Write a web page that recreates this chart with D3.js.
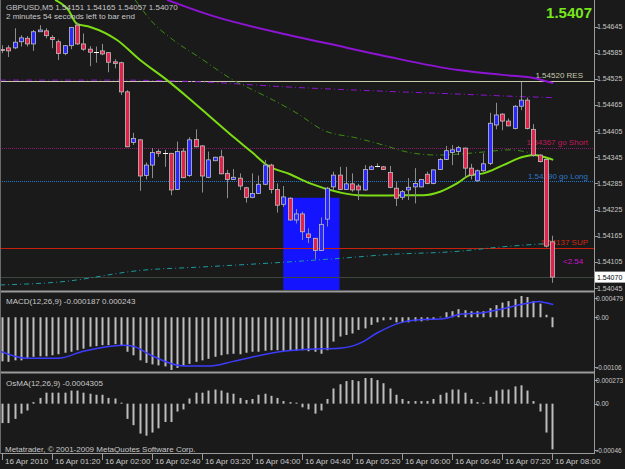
<!DOCTYPE html>
<html>
<head>
<meta charset="utf-8">
<script src="https://d3js.org/d3.v7.min.js"></script>
<style>
    body { margin: 0; background: #1a1a1a; overflow: hidden; }
    text { font-family: "Liberation Sans", Arial, sans-serif; font-size: 8px; fill: #c8c8c8; }
    text.axis { font-size: 7px; }
    text.big { font-size: 15px; font-weight: bold; fill: #78e61e; }
</style>
</head>
<body>
<div id="container"></div>
<script>
    // ---- data (GBPUSD M5, 16 Apr 2010 00:40 - 08:00) ----
    const opens = [1.54592,1.54596,1.54596,1.54610,1.54618,1.54605,1.54633,1.54635,1.54620,1.54610,
        1.54583,1.54601,1.54648,1.54605,1.54593,1.54586,1.54589,1.54585,1.54564,1.54562,
        1.54495,1.54379,1.54385,1.54303,1.54327,1.54358,1.54355,1.54354,1.54271,1.54359,
        1.54303,1.54386,1.54371,1.54299,1.54337,1.54346,1.54308,1.54294,1.54297,1.54275,
        1.54253,1.54262,1.54283,1.54327,1.54271,1.54237,1.54251,1.54201,1.54215,1.54169,
        1.54159,1.54131,1.54203,1.54277,1.54304,1.54271,1.54284,1.54279,1.54270,1.54317,
        1.54326,1.54323,1.54310,1.54274,1.54253,1.54270,1.54277,1.54277,1.54306,1.54285,
        1.54317,1.54340,1.54356,1.54358,1.54366,1.54320,1.54291,1.54314,1.54331,1.54419,
        1.54444,1.54428,1.54411,1.54462,1.54476,1.54409,1.54350,1.54340,1.54151];
    const highs = [1.54602,1.54602,1.54641,1.54625,1.54623,1.54637,1.54648,1.54641,1.54625,1.54615,
        1.54602,1.54644,1.54654,1.54629,1.54600,1.54599,1.54605,1.54586,1.54570,1.54564,
        1.54499,1.54401,1.54386,1.54333,1.54366,1.54363,1.54362,1.54355,1.54381,1.54366,
        1.54391,1.54409,1.54373,1.54358,1.54346,1.54362,1.54316,1.54318,1.54308,1.54277,
        1.54308,1.54303,1.54339,1.54330,1.54285,1.54279,1.54253,1.54226,1.54220,1.54182,
        1.54160,1.54207,1.54277,1.54312,1.54323,1.54323,1.54308,1.54284,1.54327,1.54327,
        1.54331,1.54325,1.54325,1.54289,1.54270,1.54297,1.54320,1.54295,1.54312,1.54317,
        1.54343,1.54371,1.54373,1.54371,1.54367,1.54330,1.54317,1.54354,1.54447,1.54470,
        1.54446,1.54434,1.54465,1.54518,1.54482,1.54421,1.54352,1.54343,1.54165];
    const lows = [1.54584,1.54575,1.54593,1.54599,1.54599,1.54589,1.54633,1.54618,1.54595,1.54568,
        1.54579,1.54593,1.54603,1.54589,1.54554,1.54562,1.54579,1.54540,1.54549,1.54488,
        1.54368,1.54373,1.54268,1.54294,1.54297,1.54346,1.54323,1.54258,1.54270,1.54297,
        1.54300,1.54368,1.54264,1.54297,1.54336,1.54306,1.54251,1.54293,1.54270,1.54241,
        1.54251,1.54261,1.54281,1.54262,1.54218,1.54231,1.54199,1.54193,1.54155,1.54148,
        1.54111,1.54130,1.54186,1.54270,1.54270,1.54270,1.54266,1.54247,1.54268,1.54316,
        1.54322,1.54316,1.54274,1.54233,1.54247,1.54247,1.54239,1.54276,1.54283,1.54283,
        1.54316,1.54339,1.54327,1.54350,1.54297,1.54294,1.54289,1.54312,1.54327,1.54409,
        1.54407,1.54416,1.54409,1.54453,1.54409,1.54346,1.54333,1.54138,1.54057];
    const closes = [1.54590,1.54589,1.54609,1.54619,1.54605,1.54633,1.54637,1.54624,1.54615,1.54583,
        1.54601,1.54643,1.54605,1.54593,1.54586,1.54586,1.54582,1.54563,1.54560,1.54495,
        1.54369,1.54388,1.54302,1.54327,1.54356,1.54354,1.54355,1.54270,1.54358,1.54298,
        1.54385,1.54369,1.54302,1.54339,1.54345,1.54307,1.54294,1.54299,1.54279,1.54253,
        1.54262,1.54283,1.54327,1.54271,1.54235,1.54254,1.54201,1.54215,1.54174,1.54161,
        1.54131,1.54191,1.54274,1.54304,1.54271,1.54284,1.54270,1.54270,1.54317,1.54323,
        1.54326,1.54317,1.54276,1.54251,1.54266,1.54276,1.54285,1.54294,1.54285,1.54316,
        1.54340,1.54360,1.54362,1.54367,1.54320,1.54304,1.54314,1.54330,1.54423,1.54442,
        1.54428,1.54417,1.54462,1.54476,1.54411,1.54350,1.54335,1.54141,1.54070];

    // moving averages: knots read at bar positions
    const maFastBars = [8.5,10.6,12,14.1,18.4,22.1,26.4,29.6,33.3,37,40.2,42.4,46.1,49.3,54.1,56.8,60,63.7,67.4,70.1,72.8,74.9,77,80.2,83.4,85,86.6,88.2];
    const maFastVals = [1.54706,1.54683,1.54651,1.54644,1.54614,1.54568,1.54522,1.54484,1.54438,1.54392,1.54354,1.54327,1.54306,1.54285,1.54264,1.54258,1.54257,1.54258,1.54258,1.54266,1.54285,1.54304,1.54308,1.54327,1.54346,1.54350,1.54346,1.54339];
    const maMidBars = [21.3,24.2,27.4,31.7,37,40.2,43.4,47.2,51.4,56.8,61,64.8,69.6,72.8,77,81.3,84.5,87.7];
    const maMidVals = [1.54706,1.54653,1.54614,1.54573,1.54522,1.54499,1.54476,1.54446,1.54407,1.54389,1.54373,1.54357,1.54350,1.54352,1.54357,1.54362,1.54355,1.54339];
    const maSlowBars = [26.4,33.3,46,55,62,73,80,85,88.2];
    const maSlowVals = [1.54706,1.54671,1.54625,1.54597,1.54575,1.54545,1.54534,1.54527,1.54515];
    const maSlowDashBars = [-0.3,18.4,31.7,46,62,73,83.4,88];
    const maSlowDashVals = [1.54522,1.54522,1.54518,1.54506,1.54496,1.54490,1.54484,1.54482];
    const maLongBars = [-0.3,9.3,22.6,31.7,46,54,62.1,72.8,79.7,88.2];
    const maLongVals = [1.54052,1.54059,1.54086,1.54093,1.54105,1.54113,1.54122,1.54129,1.54139,1.54148];

    // horizontal levels
    const levelPrices = [1.54520, 1.54367, 1.54290, 1.54137];
    const levelNames = ["RES", "go Short", "go Long", "SUP"];
    const bidPrice = 1.54070;

    // rectangle object (bars 04:25 - 05:10)
    const boxBars = [45, 54];
    const boxPrices = [1.54252, 1.53950];

    // MACD(12,26,9): main histogram + signal line knots
    const macdMain = [-0.00086,-0.00087,-0.00084,-0.00084,-0.00079,-0.00077,-0.00076,-0.00076,-0.00074,-0.00072,
        -0.00069,-0.00067,-0.00064,-0.00061,-0.00057,-0.00056,-0.00054,-0.00054,-0.00052,-0.00054,
        -0.00067,-0.00074,-0.00084,-0.00089,-0.00092,-0.00094,-0.00096,-0.00103,-0.00099,-0.00094,
        -0.00091,-0.00087,-0.00084,-0.00081,-0.00077,-0.00074,-0.00072,-0.00071,-0.00072,-0.00069,
        -0.00067,-0.00067,-0.00065,-0.00064,-0.00064,-0.00065,-0.00064,-0.00065,-0.00064,-0.00066,
        -0.00067,-0.00071,-0.00064,-0.00047,-0.00037,-0.00034,-0.00031,-0.00024,-0.00021,-0.00014,
        -0.00009,-0.00005,-0.00004,-0.00009,-0.00009,-0.00009,-0.00007,-0.00007,-0.00005,-0.00003,
        0.00000,0.00009,0.00011,0.00015,0.00013,0.00011,0.00011,0.00011,0.00017,0.00023,
        0.00028,0.00031,0.00035,0.00041,0.00039,0.00031,0.00026,0.00004,-0.000187];
    const signalBars = [-0.3,4,9,13,19.4,21,23.7,29,33.3,37,45,49.3,54,57.3,60,63.7,66.9,70.6,73.3,77,80.2,83.4,86,86.8,88.2];
    const signalVals = [-0.00067,-0.00081,-0.00081,-0.00067,-0.00055,-0.00057,-0.00074,-0.00096,-0.00096,-0.00087,-0.00067,-0.00063,-0.00061,-0.00051,-0.00031,-0.00011,-0.00005,-0.00003,0.00006,0.00009,0.00017,0.00026,0.00031,0.00029,0.00025];
    const macdRange = [-0.00106, 0.000479];

    // OsMA(12,26,9)
    const osma = [-0.00018,-0.00018,-0.00014,-0.00009,-0.00006,0.00001,0.00005,0.0001,0.0001,0.0001,
        0.0001,0.00012,0.00012,0.0001,0.00009,0.00008,0.00008,0.00005,0.000045,0.000005,
        -0.00014,-0.0002,-0.00028,-0.0003,-0.00027,-0.00023,-0.00017,-0.00017,-0.00007,-0.00005,
        0.000045,0.0001,0.0001,0.00012,0.00013,0.00012,0.0001,0.00009,0.00005,0.00003,
        0.00004,0.00008,0.00009,0.00007,0.00005,0.00002,0.00001,0.000005,-0.00003,-0.00005,
        -0.00009,-0.00006,0.00004,0.00014,0.00018,0.00021,0.00022,0.00021,0.00024,0.00024,
        0.00022,0.00019,0.00014,0.00008,0.00004,0.00002,0.00002,0.00002,0.00002,0.00004,
        0.00008,0.0001,0.00013,0.00013,0.0001,0.00004,0.00001,0.000005,0.00006,0.00012,
        0.00013,0.00013,0.00016,0.00017,0.00012,0.00002,-0.00007,-0.00027,-0.00043];
    const osmaRange = [-0.00046, 0.000273];

    const priceTicks = [1.54645,1.54585,1.54525,1.54465,1.54405,1.54345,1.54285,1.54225,1.54165,1.54105,1.54045];
    const timeTickBars = [0,8,16,24,32,40,48,56,64,72,80,88];
    const timeTickLabels = ["16 Apr 2010","16 Apr 01:20","16 Apr 02:00","16 Apr 02:40","16 Apr 03:20","16 Apr 04:00",
        "16 Apr 04:40","16 Apr 05:20","16 Apr 06:00","16 Apr 06:40","16 Apr 07:20","16 Apr 08:00"];

    // ---- layout ----
    const W = 625, H = 469;
    const axisX = 594;
    const mainBottom = 290, macdTop = 293, macdBottom = 371, osTop = 375, osBottom = 452;

    const svg = d3.select("#container").append("svg")
        .attr("width", W).attr("height", H);
    svg.append("rect").attr("width", W).attr("height", H).attr("fill", "#1a1a1a");

    const x = d3.scaleLinear().domain([0, 88]).range([2, 552]);
    const y = d3.scaleLinear().domain([1.54045, 1.54645]).range([288, 26.5]);
    const yMacd = d3.scaleLinear().domain(macdRange).range([macdBottom, macdTop]);
    const yOs = d3.scaleLinear().domain(osmaRange).range([osBottom, osTop]);

    const defs = svg.append("defs");
    defs.append("clipPath").attr("id", "clipMain").append("rect")
        .attr("x", 0).attr("y", 0).attr("width", axisX).attr("height", mainBottom);

    const main = svg.append("g").attr("clip-path", "url(#clipMain)");

    // rectangle object (background)
    main.append("rect")
        .attr("x", x(boxBars[0])).attr("width", x(boxBars[1]) - x(boxBars[0]))
        .attr("y", y(boxPrices[0])).attr("height", y(boxPrices[1]) - y(boxPrices[0]))
        .attr("fill", "#1414ff");

    // level lines
    const levelStyle = [
        {stroke: "#c8c8aa", dash: null, text: "#c8c8aa", tx: 583},
        {stroke: "#8a1a6e", dash: "1,1", text: "#c0185a", tx: 588},
        {stroke: "#1e78d2", dash: "1,1", text: "#2a78c8", tx: 588},
        {stroke: "#c8200a", dash: null, text: "#d02810", tx: 588}
    ];
    levelPrices.forEach((p, k) => {
        main.append("line")
            .attr("x1", 0).attr("x2", axisX).attr("y1", Math.round(y(p)) + 0.5).attr("y2", Math.round(y(p)) + 0.5)
            .attr("stroke", levelStyle[k].stroke).attr("stroke-width", 1)
            .attr("stroke-dasharray", levelStyle[k].dash);
    });
    // bid line
    main.append("line")
        .attr("x1", 0).attr("x2", axisX).attr("y1", Math.round(y(bidPrice)) + 0.5).attr("y2", Math.round(y(bidPrice)) + 0.5)
        .attr("stroke", "#3c463c");

    // level texts
    levelPrices.forEach((p, k) => {
        main.append("text")
            .attr("x", levelStyle[k].tx).attr("y", y(p) - 2.5)
            .attr("text-anchor", "end")
            .style("fill", levelStyle[k].text)
            .text(p.toFixed(5) + " " + levelNames[k]);
    });
    main.append("text").attr("x", 563).attr("y", 264)
        .style("fill", "#cc11cc").text("<2.54");

    // moving averages
    const knots = (bars, vals) => bars.map((b, k) => [b, vals[k]]);
    const priceLine = d3.line().x(d => x(d[0])).y(d => y(d[1])).curve(d3.curveMonotoneX);
    const drawMa = (bars, vals, color, width, dash) => main.append("path")
        .attr("d", priceLine(knots(bars, vals)))
        .attr("fill", "none").attr("stroke", color).attr("stroke-width", width)
        .attr("stroke-dasharray", dash);
    drawMa(maLongBars, maLongVals, "#1a9aa0", 1, "5,3,1,3");
    drawMa(maSlowDashBars, maSlowDashVals, "#8c14d2", 1, "6,3,1,3");
    drawMa(maMidBars, maMidVals, "#3c8c14", 1, "6,3,1,3");
    drawMa(maSlowBars, maSlowVals, "#8c14d2", 2, null);
    drawMa(maFastBars, maFastVals, "#7cdc14", 2, null);

    // candles
    const idx = d3.range(opens.length);
    main.append("g").selectAll("line")
        .data(idx).enter().append("line")
        .attr("x1", i => Math.round(x(i)) + 0.5).attr("x2", i => Math.round(x(i)) + 0.5)
        .attr("y1", i => y(highs[i])).attr("y2", i => y(lows[i]))
        .attr("stroke", "#8c8c8c");
    main.append("g").selectAll("rect")
        .data(idx.filter(i => opens[i] !== closes[i])).enter().append("rect")
        .attr("x", i => Math.round(x(i)) - 1.5).attr("width", 4)
        .attr("y", i => y(Math.max(opens[i], closes[i])))
        .attr("height", i => Math.max(1, Math.abs(y(opens[i]) - y(closes[i]))))
        .attr("fill", i => closes[i] > opens[i] ? "#2828ff" : "#e0234a")
        .attr("stroke", "#c0c0c0").attr("stroke-width", 0.8);
    main.append("g").selectAll("line")
        .data(idx.filter(i => opens[i] === closes[i])).enter().append("line")
        .attr("x1", i => Math.round(x(i)) - 2).attr("x2", i => Math.round(x(i)) + 3)
        .attr("y1", i => Math.round(y(opens[i])) + 0.5).attr("y2", i => Math.round(y(opens[i])) + 0.5)
        .attr("stroke", "#ffffff");

    // title texts
    svg.append("text").attr("x", 6).attr("y", 9.5)
        .text("GBPUSD,M5  " + [opens[88], highs[88], lows[88], closes[88]].map(v => v.toFixed(5)).join(" "));
    svg.append("text").attr("x", 6).attr("y", 18.5).text("2 minutes 54 seconds left to bar end");
    svg.append("text").attr("class", "big").attr("x", 592).attr("y", 18)
        .attr("text-anchor", "end").text(closes[88].toFixed(4));

    // MACD panel
    svg.append("g").selectAll("line")
        .data(idx).enter().append("line")
        .attr("x1", i => Math.round(x(i)) + 0.5).attr("x2", i => Math.round(x(i)) + 0.5)
        .attr("y1", yMacd(0)).attr("y2", i => yMacd(macdMain[i]) + (macdMain[i] >= 0 ? -0.5 : 0.5))
        .attr("stroke", "#bdbdbd").attr("stroke-width", 2);
    const macdLine = d3.line().x(d => x(d[0])).y(d => yMacd(d[1])).curve(d3.curveMonotoneX);
    svg.append("path").attr("d", macdLine(knots(signalBars, signalVals)))
        .attr("fill", "none").attr("stroke", "#3c3cff").attr("stroke-width", 1.5);
    svg.append("text").attr("x", 6).attr("y", 303.5)
        .text("MACD(12,26,9) " + macdMain[88].toFixed(6) + " " + "0.000243");

    // OsMA panel
    svg.append("g").selectAll("line")
        .data(idx).enter().append("line")
        .attr("x1", i => Math.round(x(i)) + 0.5).attr("x2", i => Math.round(x(i)) + 0.5)
        .attr("y1", yOs(0)).attr("y2", i => yOs(osma[i]) + (osma[i] >= 0 ? -0.5 : 0.5))
        .attr("stroke", "#bdbdbd").attr("stroke-width", 2);
    svg.append("text").attr("x", 6).attr("y", 386).text("OsMA(12,26,9) -0.0004305");
    svg.append("text").attr("x", 5).attr("y", 452).text("Metatrader, \u00a9 2001-2009 MetaQuotes Software Corp.");

    // panel borders
    const sep = svg.append("g").attr("stroke", "#9a9a9a");
    sep.append("line").attr("x1", 0).attr("x2", axisX).attr("y1", 291.5).attr("y2", 291.5).attr("stroke-width", 2);
    sep.append("line").attr("x1", 0).attr("x2", axisX).attr("y1", 372.5).attr("y2", 372.5).attr("stroke-width", 2);
    sep.append("line").attr("x1", 0).attr("x2", axisX).attr("y1", 453.5).attr("y2", 453.5);
    sep.append("line").attr("x1", axisX + 0.5).attr("x2", axisX + 0.5).attr("y1", 0).attr("y2", 454);
    sep.append("line").attr("x1", 0.5).attr("x2", 0.5).attr("y1", 0).attr("y2", 454).attr("stroke", "#6a6a6a");

    // right price axis
    const rAxis = svg.append("g");
    priceTicks.forEach(p => {
        rAxis.append("line").attr("x1", axisX).attr("x2", axisX + 4)
            .attr("y1", Math.round(y(p)) + 0.5).attr("y2", Math.round(y(p)) + 0.5).attr("stroke", "#9a9a9a");
        rAxis.append("text").attr("class", "axis").attr("x", 597).attr("y", y(p) + 2.5).text(p.toFixed(5));
    });
    rAxis.append("rect").attr("x", 595).attr("y", y(bidPrice) - 5.5).attr("width", 30).attr("height", 11).attr("fill", "#ffffff");
    rAxis.append("text").attr("class", "axis").attr("x", 597).attr("y", y(bidPrice) + 2.5).style("fill", "#000").text(bidPrice.toFixed(5));

    // right axis for sub windows
    const subLabels = [
        [yMacd(macdRange[1]) + 5, "0.000479"], [yMacd(0), "0.00"], [yMacd(macdRange[0]) - 4, "-0.00106"],
        [yOs(osmaRange[1]) + 5, "0.000273"], [yOs(0), "0.00"], [yOs(osmaRange[0]) - 2, "-0.00046"]
    ];
    subLabels.forEach(d => {
        rAxis.append("line").attr("x1", axisX).attr("x2", axisX + 4)
            .attr("y1", Math.round(d[0]) + 0.5).attr("y2", Math.round(d[0]) + 0.5).attr("stroke", "#9a9a9a");
        rAxis.append("text").attr("class", "axis").attr("x", 596).attr("y", d[0] + 2.5)
            .style("font-size", "6.5px").text(d[1]);
    });

    // time axis
    const tAxis = svg.append("g");
    timeTickBars.forEach((b, k) => {
        tAxis.append("line").attr("x1", Math.round(x(b)) + 0.5).attr("x2", Math.round(x(b)) + 0.5)
            .attr("y1", 454).attr("y2", 460).attr("stroke", "#9a9a9a");
        tAxis.append("text").attr("x", x(b) + 3).attr("y", 464).text(timeTickLabels[k]);
    });
</script>
</body>
</html>
